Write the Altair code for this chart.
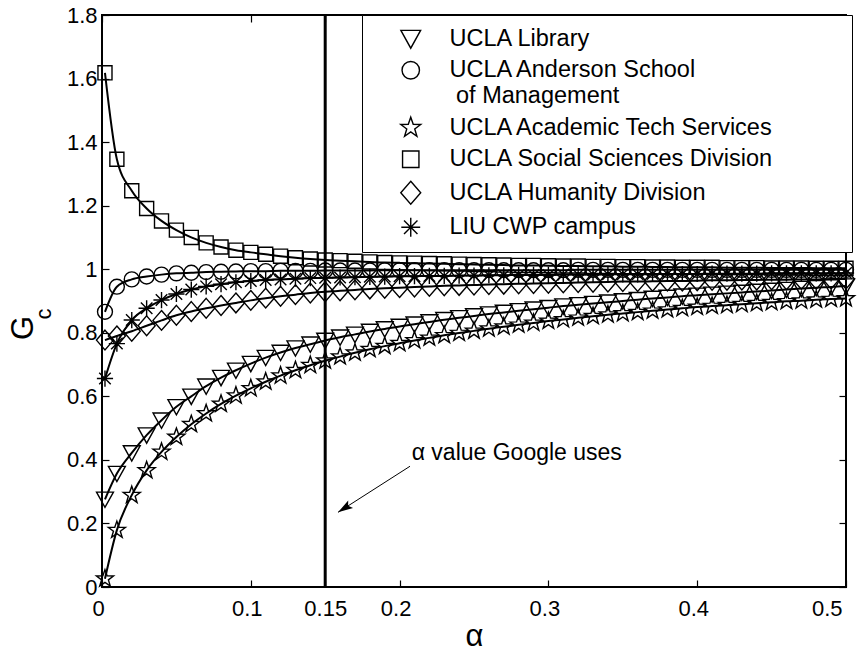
import math
import altair as alt
import pandas as pd

# ---------------- data ----------------
alpha = [0.002, 0.01, 0.02, 0.03, 0.04, 0.05, 0.06, 0.07, 0.08, 0.09,
         0.10, 0.11, 0.12, 0.13, 0.14, 0.15, 0.16, 0.17, 0.18, 0.19,
         0.20, 0.21, 0.22, 0.23, 0.24, 0.25, 0.26, 0.27, 0.28, 0.29,
         0.30, 0.31, 0.32, 0.33, 0.34, 0.35, 0.36, 0.37, 0.38, 0.39,
         0.40, 0.41, 0.42, 0.43, 0.44, 0.45, 0.46, 0.47, 0.48, 0.49,
         0.50]

library = [0.276, 0.357, 0.422, 0.478, 0.525, 0.567, 0.600, 0.632, 0.659, 0.682,
           0.703, 0.722, 0.738, 0.752, 0.764, 0.776, 0.786, 0.795, 0.804, 0.812,
           0.820, 0.827, 0.834, 0.841, 0.847, 0.853, 0.859, 0.864, 0.869, 0.874,
           0.879, 0.884, 0.888, 0.892, 0.896, 0.900, 0.904, 0.908, 0.911, 0.915,
           0.918, 0.921, 0.924, 0.927, 0.930, 0.933, 0.936, 0.939, 0.942, 0.944,
           0.947]

anderson = [0.866, 0.945, 0.968, 0.977, 0.983, 0.987, 0.989, 0.991, 0.992, 0.993,
            0.994, 0.994, 0.995, 0.995, 0.995, 0.996, 0.996, 0.996, 0.996, 0.997,
            0.997, 0.997, 0.997, 0.997, 0.997, 0.997, 0.997, 0.997, 0.997, 0.997,
            0.997, 0.997, 0.998, 0.998, 0.998, 0.998, 0.998, 0.998, 0.998, 0.998,
            0.998, 0.998, 0.998, 0.998, 0.998, 0.998, 0.998, 0.998, 0.998, 0.998,
            0.998]

academic = [0.026, 0.179, 0.289, 0.367, 0.425, 0.472, 0.512, 0.546, 0.576, 0.602,
            0.625, 0.646, 0.665, 0.682, 0.698, 0.712, 0.725, 0.737, 0.748, 0.758,
            0.767, 0.776, 0.784, 0.792, 0.799, 0.806, 0.813, 0.819, 0.825, 0.831,
            0.837, 0.842, 0.847, 0.852, 0.857, 0.861, 0.865, 0.869, 0.873, 0.877,
            0.881, 0.884, 0.887, 0.890, 0.893, 0.896, 0.899, 0.901, 0.904, 0.906,
            0.908]

social = [1.618, 1.346, 1.247, 1.191, 1.152, 1.123, 1.100, 1.083, 1.070, 1.060,
          1.053, 1.047, 1.041, 1.036, 1.032, 1.029, 1.027, 1.025, 1.023, 1.021,
          1.020, 1.019, 1.018, 1.017, 1.016, 1.015, 1.014, 1.013, 1.012, 1.012,
          1.011, 1.010, 1.010, 1.009, 1.009, 1.008, 1.008, 1.007, 1.007, 1.006,
          1.006, 1.006, 1.005, 1.005, 1.005, 1.004, 1.004, 1.004, 1.003, 1.003,
          1.003]

humanity = [0.777, 0.790, 0.805, 0.822, 0.839, 0.855, 0.867, 0.877, 0.886, 0.894,
            0.902, 0.909, 0.915, 0.920, 0.925, 0.929, 0.932, 0.935, 0.938, 0.940,
            0.942, 0.944, 0.946, 0.948, 0.949, 0.950, 0.952, 0.953, 0.954, 0.955,
            0.956, 0.957, 0.958, 0.959, 0.960, 0.961, 0.961, 0.962, 0.963, 0.963,
            0.964, 0.965, 0.965, 0.966, 0.966, 0.967, 0.967, 0.968, 0.968, 0.969,
            0.969]

liu = [0.656, 0.766, 0.840, 0.877, 0.903, 0.922, 0.936, 0.946, 0.953, 0.959,
       0.963, 0.966, 0.968, 0.970, 0.972, 0.973, 0.974, 0.975, 0.976, 0.977,
       0.978, 0.978, 0.979, 0.979, 0.980, 0.980, 0.981, 0.981, 0.982, 0.982,
       0.982, 0.983, 0.983, 0.983, 0.984, 0.984, 0.984, 0.985, 0.985, 0.985,
       0.985, 0.986, 0.986, 0.986, 0.986, 0.987, 0.987, 0.987, 0.987, 0.987,
       0.988]

series_names = ["UCLA Library",
                "UCLA Anderson School of Management",
                "UCLA Academic Tech Services",
                "UCLA Social Sciences Division",
                "UCLA Humanity Division",
                "LIU CWP campus"]
series_values = [library, anderson, academic, social, humanity, liu]

x_ticks = [0, 0.1, 0.15, 0.2, 0.3, 0.4, 0.5]
y_ticks = [0, 0.2, 0.4, 0.6, 0.8, 1.0, 1.2, 1.4, 1.6, 1.8]

google_alpha = 0.15
note_text = "\u03b1 value Google uses"
note_pos = (0.2081, 0.399)
arrow_from = (0.207, 0.380)
arrow_to = (0.1586, 0.235)

# ---------------- marker shapes (unit box) ----------------
def star_path(r_out=1.0, r_in=0.4):
    pts = []
    for k in range(10):
        ang = math.radians(-90 + 36 * k)
        r = r_out if k % 2 == 0 else r_in
        pts.append((r * math.cos(ang), r * math.sin(ang)))
    return "M" + "L".join(f"{px:.3f},{py:.3f}" for px, py in pts) + "Z"

tri_down = "M-0.94,-0.8L0.94,-0.8L0,0.9Z"
circ = "M-0.83,0A0.83,0.83 0 1,0 0.83,0A0.83,0.83 0 1,0 -0.83,0Z"
star = star_path()
sq = "M-0.78,-0.78L0.78,-0.78L0.78,0.78L-0.78,0.78Z"
dia = "M0,-1.1L0.95,0L0,1.1L-0.95,0Z"
ast = "M0,-0.9L0,0.9M-0.9,0L0.9,0M-0.64,-0.64L0.64,0.64M-0.64,0.64L0.64,-0.64"
shapes = [tri_down, circ, star, sq, dia, ast]

rows = []
for name, vals in zip(series_names, series_values):
    for a, g in zip(alpha, vals):
        rows.append({"alpha": a, "G": g, "series": name})
df = pd.DataFrame(rows)

FONT = "Liberation Sans"
xscale = alt.Scale(domain=[0, 0.5], nice=False, zero=False)
yscale = alt.Scale(domain=[0, 1.8], nice=False, zero=False)

ZW = "\u200b"
NB = "\u00a0"
label_expr = (
    "datum.label == 'UCLA Anderson School of Management' ? "
    f"['UCLA Anderson School', '{ZW}{NB}of Management'] : "
    "datum.label == 'UCLA Academic Tech Services' ? "
    f"datum.label + '{NB * 10}{ZW}' : datum.label"
)

lines = alt.Chart(df).mark_line(color="black", strokeWidth=2, interpolate="monotone").encode(
    x=alt.X("alpha:Q", scale=xscale,
            axis=alt.Axis(orient="top", values=x_ticks, labels=False, title=None,
                          tickSize=7, offset=-7, tickColor="black", tickWidth=1.2,
                          domain=False, grid=False)),
    y=alt.Y("G:Q", scale=yscale,
            axis=alt.Axis(orient="right", values=y_ticks, labels=False, title=None,
                          tickSize=7, offset=-7, tickColor="black", tickWidth=1.2,
                          domain=False, grid=False)),
    detail="series:N",
)

points = alt.Chart(df).mark_point(filled=False, strokeWidth=1.4, size=324, opacity=1).encode(
    x=alt.X("alpha:Q", scale=xscale,
            axis=alt.Axis(orient="bottom", values=x_ticks, format=".2~f", title="\u03b1",
                          tickSize=7, offset=-7, tickColor="black", tickWidth=1.2,
                          domain=False, grid=False, labelFont=FONT, labelFontSize=22,
                          labelColor="black", labelPadding=11,
                          labelOffset={"condition": [{"test": "datum.value < 0.001", "value": -10},
                                                     {"test": "datum.value == 0.15", "value": 0}],
                                       "value": -4},
                          titleFont=FONT, titleFontSize=31, titleFontWeight="normal",
                          titleColor="black", titlePadding=2)),
    y=alt.Y("G:Q", scale=yscale,
            axis=alt.Axis(orient="left", values=y_ticks, format=".1~f", title=None,
                          tickSize=7, offset=-7, tickColor="black", tickWidth=1.2,
                          domain=False, grid=False, labelFont=FONT, labelFontSize=22,
                          labelColor="black", labelPadding=5)),
    shape=alt.Shape("series:N",
                    scale=alt.Scale(domain=series_names, range=shapes),
                    legend=alt.Legend(title=None, orient="none", legendX=260, legendY=0,
                                      padding=12, strokeColor="black", fillColor="white",
                                      symbolSize=441, symbolStrokeWidth=1.4,
                                      symbolStrokeColor="black", symbolFillColor="white",
                                      symbolOffset=25, labelOffset=27,
                                      labelFont=FONT, labelFontSize=23.5, labelColor="black",
                                      labelLimit=800, rowPadding=6.5, labelExpr=label_expr)),
    color=alt.value("black"),
)

vline = alt.Chart(pd.DataFrame({"a": [google_alpha]})).mark_rule(
    color="black", strokeWidth=3).encode(x=alt.X("a:Q", scale=xscale, axis=None))

arrow_df = pd.DataFrame({"x": [arrow_from[0]], "y": [arrow_from[1]],
                         "x2": [arrow_to[0]], "y2": [arrow_to[1]]})
arrow_line = alt.Chart(arrow_df).mark_rule(color="black", strokeWidth=1).encode(
    x=alt.X("x:Q", scale=xscale, axis=None), y=alt.Y("y:Q", scale=yscale, axis=None),
    x2="x2:Q", y2="y2:Q")
arrow_head = alt.Chart(arrow_df).mark_point(
    shape="M0,0L-0.3,1L0,0.8L0.3,1Z", filled=True, color="black", size=900,
    angle=237.4, opacity=1).encode(
    x=alt.X("x2:Q", scale=xscale, axis=None), y=alt.Y("y2:Q", scale=yscale, axis=None))

note = alt.Chart(pd.DataFrame({"x": [note_pos[0]], "y": [note_pos[1]], "t": [note_text]})).mark_text(
    align="left", baseline="alphabetic", font=FONT, fontSize=23, color="black").encode(
    x=alt.X("x:Q", scale=xscale, axis=None), y=alt.Y("y:Q", scale=yscale, axis=None), text="t:N")

g_title = alt.Chart(pd.DataFrame({"t": ["G"]})).mark_text(
    angle=270, align="center", baseline="middle", font=FONT, fontSize=31, color="black").encode(
    x=alt.value(-78), y=alt.value(313), text="t:N")
c_title = alt.Chart(pd.DataFrame({"t": ["c"]})).mark_text(
    angle=270, align="center", baseline="middle", font=FONT, fontSize=22, color="black").encode(
    x=alt.value(-58), y=alt.value(299), text="t:N")

chart = alt.layer(lines, points, vline, arrow_line, arrow_head, note, g_title, c_title).resolve_axis(
    x="independent", y="independent"
).properties(
    width=744, height=572,
    padding={"left": 102, "top": 15, "right": 16, "bottom": 64},
    autosize=alt.AutoSizeParams(type="none"),
    background="white",
).configure_view(stroke="black", strokeWidth=2)

chart.save("out.html", embed_options={"renderer": "svg", "actions": False})
